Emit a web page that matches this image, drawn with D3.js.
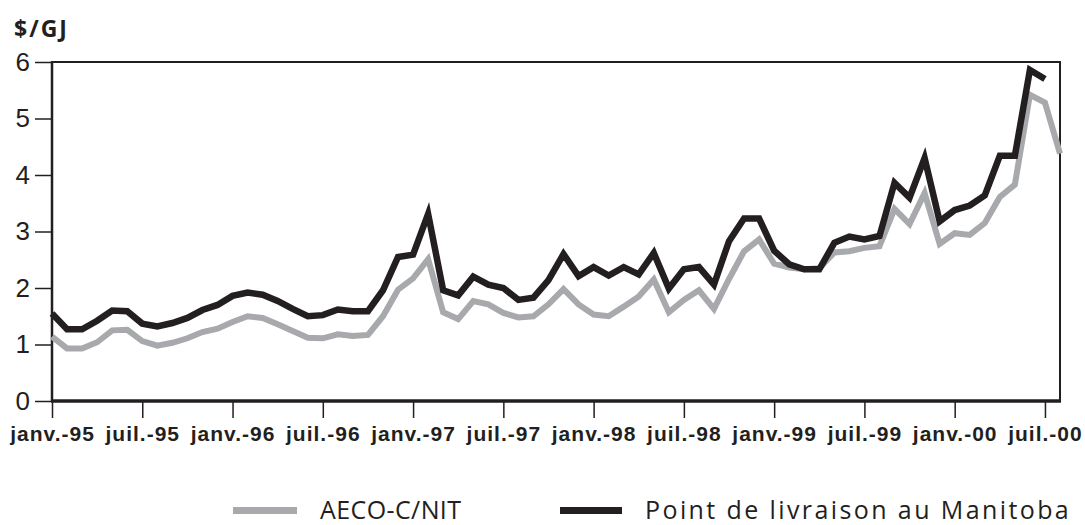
<!DOCTYPE html>
<html>
<head>
<meta charset="utf-8">
<script src="https://cdn.jsdelivr.net/npm/d3@7"></script>
<style>
  body { margin: 0; background: #fff; }
  svg { display: block; font-family: "Open Sans", sans-serif; }
  .axis path { display: none; }
  .axis line { stroke: #231f20; stroke-width: 1.5px; }
  .y-axis text { font-size: 26px; fill: #231f20; }
  .x-axis text { font-size: 21px; font-weight: 700; fill: #231f20; letter-spacing: 1px; }
  .frame { stroke: #231f20; fill: none; }
  .series { fill: none; stroke-linejoin: miter; stroke-linecap: butt; }
  .legend text { font-size: 25px; fill: #231f20; }
</style>
</head>
<body>
<svg width="1085" height="525"></svg>
<script>
// monthly prices, janv. 1995 onwards ($/GJ)
var aeco = [1.14, 0.93, 0.93, 1.04, 1.25, 1.26, 1.06, 0.98, 1.03, 1.11, 1.22, 1.28,
            1.40, 1.50, 1.47, 1.36, 1.24, 1.12, 1.11, 1.18, 1.15, 1.17, 1.50, 1.97,
            2.17, 2.51, 1.57, 1.45, 1.77, 1.71, 1.56, 1.48, 1.50, 1.71, 1.98, 1.71,
            1.53, 1.50, 1.67, 1.85, 2.15, 1.57, 1.79, 1.96, 1.63, 2.16, 2.65, 2.86,
            2.43, 2.36, 2.33, 2.35, 2.63, 2.65, 2.71, 2.74, 3.40, 3.13, 3.68, 2.78,
            2.97, 2.94, 3.15, 3.61, 3.83, 5.42, 5.28, 4.38];

var manitoba = [1.55, 1.27, 1.27, 1.42, 1.60, 1.59, 1.37, 1.32, 1.38, 1.47, 1.61, 1.70,
                1.86, 1.92, 1.88, 1.77, 1.63, 1.50, 1.52, 1.62, 1.59, 1.59, 1.96, 2.55,
                2.59, 3.31, 1.96, 1.87, 2.20, 2.06, 2.00, 1.79, 1.83, 2.14, 2.60, 2.21,
                2.37, 2.22, 2.37, 2.24, 2.62, 1.99, 2.33, 2.37, 2.06, 2.83, 3.23, 3.23,
                2.66, 2.42, 2.33, 2.33, 2.80, 2.91, 2.86, 2.92, 3.86, 3.60, 4.30, 3.18,
                3.38, 3.46, 3.64, 4.34, 4.34, 5.86, 5.70];

var tickLabels = ["janv.-95", "juil.-95", "janv.-96", "juil.-96", "janv.-97", "juil.-97",
                  "janv.-98", "juil.-98", "janv.-99", "juil.-99", "janv.-00", "juil.-00"];
var yTicks = [0, 1, 2, 3, 4, 5, 6];
var seriesNames = ["AECO-C/NIT", "Point de livraison au Manitoba"];
var seriesColors = ["#a7a9ac", "#231f20"];

(function() {
  var svg = d3.select("svg");

  var left = 52, right = 1060, plotTop = 62, bottom = 401;

  var x = d3.scaleLinear().domain([0, 67]).range([left, right]);
  var y = d3.scaleLinear().domain([0, 6]).range([bottom, plotTop]);

  // axes
  svg.append("g")
      .attr("class", "axis y-axis")
      .attr("transform", "translate(" + left + ",0)")
      .call(d3.axisLeft(y).tickValues(yTicks).tickSize(17).tickPadding(5).tickFormat(d3.format("d")));

  svg.append("g")
      .attr("class", "axis x-axis")
      .attr("transform", "translate(0," + bottom + ")")
      .call(d3.axisBottom(x)
        .tickValues(tickLabels.map(function(d, i) { return i * 6; }))
        .tickSize(17)
        .tickPadding(8)
        .tickFormat(function(d) { return tickLabels[d / 6]; }));

  // frame
  svg.append("line").attr("class", "frame")
      .attr("x1", left).attr("x2", right).attr("y1", plotTop).attr("y2", plotTop)
      .style("stroke-width", 2);
  svg.append("line").attr("class", "frame")
      .attr("x1", right).attr("x2", right).attr("y1", plotTop - 1).attr("y2", bottom)
      .style("stroke-width", 2);
  svg.append("line").attr("class", "frame")
      .attr("x1", left).attr("x2", left).attr("y1", plotTop - 1).attr("y2", bottom)
      .style("stroke-width", 2.5);
  svg.append("line").attr("class", "frame")
      .attr("x1", left - 1).attr("x2", right + 1).attr("y1", bottom).attr("y2", bottom)
      .style("stroke-width", 3.5);

  // lines
  var line = d3.line()
      .x(function(d, i) { return x(i); })
      .y(function(d) { return y(d); });

  svg.append("path").attr("class", "series")
      .attr("d", line(aeco))
      .attr("stroke", seriesColors[0])
      .attr("stroke-width", 6);

  svg.append("path").attr("class", "series")
      .attr("d", line(manitoba))
      .attr("stroke", seriesColors[1])
      .attr("stroke-width", 6.5);

  // title
  svg.append("text")
      .attr("x", 14).attr("y", 37)
      .style("font-size", "23px").style("font-weight", 700)
      .style("letter-spacing", "2px")
      .attr("fill", "#231f20")
      .text("$/GJ");

  // legend
  var legend = svg.append("g").attr("class", "legend");
  var legendX = [233, 560];
  var textX = [320, 645];
  seriesNames.forEach(function(name, i) {
    legend.append("rect")
        .attr("x", legendX[i]).attr("y", 507)
        .attr("width", i ? 62 : 64).attr("height", 7)
        .attr("fill", seriesColors[i]);
    legend.append("text")
        .attr("x", textX[i]).attr("y", 519)
        .style("letter-spacing", i ? "2.4px" : "0.4px")
        .text(name);
  });
})();
</script>
</body>
</html>
